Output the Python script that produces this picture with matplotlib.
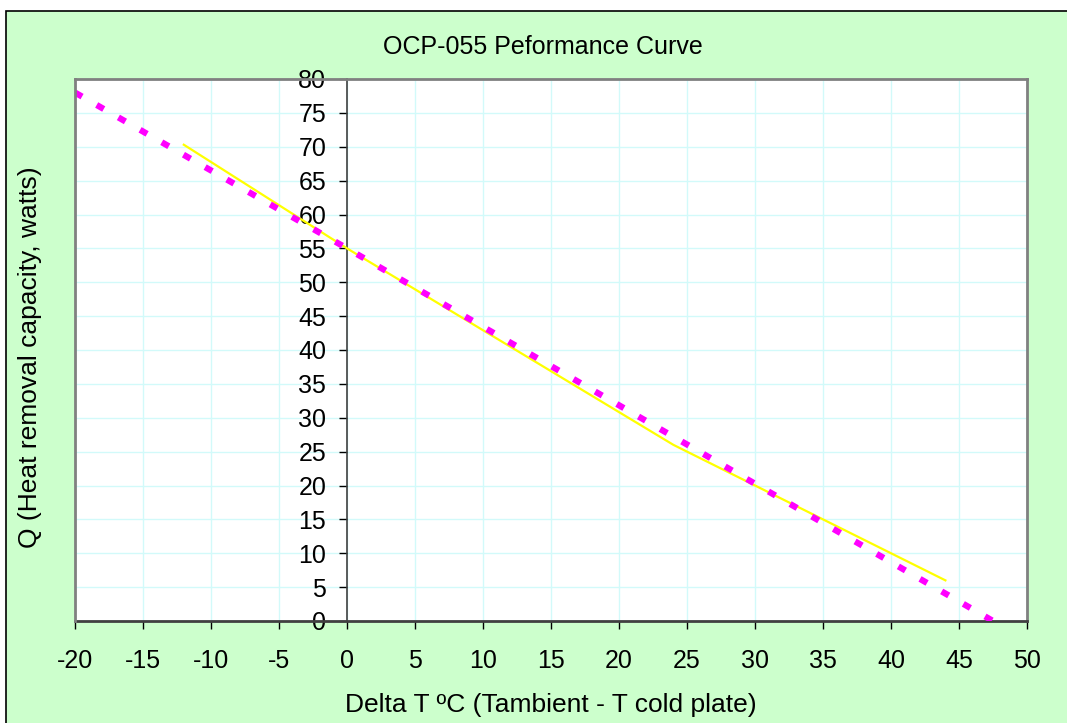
import matplotlib.pyplot as plt
from matplotlib.patches import Rectangle

# series
dt_measured = [-20, 0, 47.5]
q_measured = [78, 55, 0]
dt_spec = [-12, 0, 24, 44]
q_spec = [70.3, 55, 26, 6]
xticks = list(range(-20, 55, 5))
yticks = list(range(0, 85, 5))

plt.rcParams['font.family'] = ['Liberation Sans', 'DejaVu Sans']
plt.rcParams['axes.unicode_minus'] = False

fig = plt.figure(figsize=(10.67, 7.23), dpi=100, facecolor='white')
# green chart area with black frame
fig.patches.append(Rectangle((6/1067, -0.01), 1.0, 1 - 11/723 + 0.01, transform=fig.transFigure,
                             facecolor='#CCFFCC', edgecolor='black', lw=1.2, zorder=-10))

ax = fig.add_axes([75/1067, 1 - 621/723, (1027-75)/1067, (621-79)/723])
ax.set_facecolor('white')
ax.set_xlim(-20, 50)
ax.set_ylim(0, 80)

ax.grid(True, color='#D2FAFA', lw=1)
ax.set_axisbelow(True)

ax.plot(dt_spec, q_spec, color='#FFFF00', lw=1.6, zorder=3)
ax.plot(dt_measured, q_measured, color='#FF00FF', lw=4.5, dashes=(1.3, 2.7), zorder=4)

ax.spines['left'].set_position(('data', 0))
for s in ax.spines.values():
    s.set_color('#808080')
    s.set_linewidth(2)
ax.spines['left'].set_color('#404040')
ax.spines['left'].set_linewidth(1.2)
ax.spines['bottom'].set_color('#404040')
ax.axvline(-20, color='#808080', lw=2, clip_on=False, zorder=5)

ax.set_xticks(xticks)
ax.set_yticks(yticks)
ax.tick_params(axis='x', length=6, width=1, color='black', pad=14, labelsize=18)
ax.tick_params(axis='y', length=6, width=1, color='black', pad=9, labelsize=18)
for lab in ax.get_yticklabels():
    lab.set_zorder(6)

fig.text(543/1067, 1 - 47/723, 'OCP-055 Peformance Curve', ha='center', va='center', fontsize=18)
fig.text(551/1067, 1 - 705/723, 'Delta T ºC (Tambient - T cold plate)', ha='center', va='center', fontsize=19)
fig.text(30/1067, 1 - 357/723, 'Q (Heat removal capacity, watts)', ha='center', va='center',
         rotation=90, fontsize=19)

fig.savefig('out.png', dpi=100, facecolor=fig.get_facecolor())
